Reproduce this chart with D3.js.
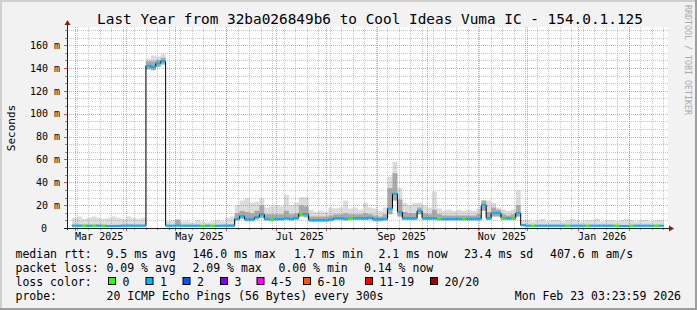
<!DOCTYPE html>
<html>
<head>
<meta charset="utf-8">
<script src="https://cdn.jsdelivr.net/npm/d3@7"></script>
<style>
  body { margin: 0; background: #f2f2f2; }
  svg { display: block; }
  text { font-family: "DejaVu Sans Mono", monospace; fill: #000; }
</style>
</head>
<body>
<svg id="chart" width="697" height="310"></svg>
<script>
// ---- data (one bin = 3 days, ms) ----
const binDays = 3;
const rangeStart = new Date(Date.UTC(2025, 1, 24, 3, 24));
const rangeEnd = new Date(Date.UTC(2026, 1, 24, 3, 24));

const median = [
  null, 2.1, 2.1, 2.1, 2.0, 2.1, 2.1, 2.0, 1.8, 1.8,
  1.9, 2.1, 2.1, 2.1, 2.1, 2.1, 142, 141, 144, 146,
  2.1, 2.1, 2.2, 2.1, 2.1, 2.1, 2.1, 2.0, 2.1, 2.1,
  2.0, 2.1, 2.1, 2.1, 8.0, 10.5, 7.6, 7.6, 9.5, 12.0,
  8.0, 7.5, 8.0, 8.0, 8.5, 8.0, 9.0, 12.5, 12.0, 7.0,
  7.0, 7.0, 7.0, 7.5, 8.5, 8.5, 8.2, 8.5, 8.5, 8.5,
  8.5, 9.0, 7.6, 7.6, 8.0, 17, 30, 14, 8.5, 8.5,
  8.5, 15, 8.5, 8.5, 8.5, 8.0, 8.0, 8.0, 8.0, 8.0,
  8.0, 8.0, 8.2, 8.0, 20, 8.5, 13, 13, 8.5, 8.5,
  8.5, 13, 2.5, 2.1, 2.1, 2.1, 2.1, 2.1, 2.1, 2.1,
  2.1, 2.1, 2.1, 2.1, 2.1, 2.1, 2.1, 2.1, 2.1, 2.1,
  2.1, 2.1, 1.8, 1.8, 2.1, 2.1, 2.1, 2.1, 2.1, 2.1,
  2.1, null
];

// top of the smoke (slowest ping)
const smokeHi = [
  null, 9, 10, 8, 9, 10, 9, 8, 9, 10,
  9, 8, 10, 9, 8, 9, 148, 151, 150, 152,
  6, 7, 8, 6, 6, 5, 7, 6, 5, 6,
  7, 6, 9, 10, 20, 24, 26, 22, 23, 26,
  18, 19, 20, 19, 29, 20, 22, 27, 27, 16,
  14, 15, 14, 18, 17, 18, 24, 17, 18, 16,
  22, 18, 17, 15, 18, 45, 58, 35, 22, 20,
  22, 22, 20, 18, 32, 17, 15, 16, 15, 16,
  15, 16, 15, 17, 24, 24, 22, 18, 16, 15,
  16, 33, 7, 7, 6, 7, 8, 6, 7, 7,
  6, 7, 8, 7, 6, 7, 7, 8, 6, 7,
  7, 6, 7, 8, 7, 6, 7, 7, 6, 7,
  7, null
];

// top of the dense part of the smoke
const smokeMid = [
  null, 2.8, 2.8, 2.8, 2.8, 2.8, 2.8, 2.8, 2.6, 2.6,
  2.6, 2.8, 2.8, 2.8, 2.8, 2.8, 146, 146, 147, 149,
  2.6, 2.6, 7, 2.6, 2.6, 2.6, 2.6, 2.6, 2.6, 2.6,
  2.6, 2.6, 2.8, 3, 13, 15, 14, 13, 15, 20,
  12, 12, 12, 12, 15, 12, 13, 20, 19, 10,
  10, 10, 10, 11, 12, 12, 13, 12, 12, 12,
  13, 12, 11, 10, 12, 35, 48, 25, 14, 13,
  13, 18, 13, 12, 16, 12, 11, 11, 11, 11,
  11, 11, 11, 12, 24, 14, 18, 16, 12, 11,
  12, 20, 3, 2.6, 2.6, 2.6, 2.6, 2.6, 2.6, 2.6,
  2.6, 2.6, 2.6, 2.6, 2.6, 2.6, 2.6, 2.6, 2.6, 2.6,
  2.6, 2.6, 2.6, 2.6, 2.6, 2.6, 2.6, 2.6, 2.6, 2.6,
  2.6, null
];

// bottom of the smoke (fastest ping)
const smokeLo = [
  null, 1.4, 1.4, 1.4, 1.4, 1.4, 1.4, 1.4, 1.4, 1.4,
  1.4, 1.4, 1.4, 1.4, 1.4, 1.4, 139, 138, 141, 143,
  1.4, 1.4, 1.4, 1.4, 1.4, 1.4, 1.4, 1.4, 1.4, 1.4,
  1.4, 1.4, 1.4, 1.4, 6.5, 8, 6, 6, 7.5, 9,
  6.5, 6, 6.5, 6.5, 7, 6.5, 7, 10, 9.5, 5.5,
  5.5, 5.5, 5.5, 6, 7, 7, 6.5, 7, 7, 7,
  7, 7.5, 6, 6, 6.5, 12, 24, 10, 7, 7,
  7, 12, 7, 7, 7, 6.5, 6.5, 6.5, 6.5, 6.5,
  6.5, 6.5, 6.5, 6.5, 15, 7, 10, 10, 7, 7,
  7, 10, 1.5, 1.4, 1.4, 1.4, 1.4, 1.4, 1.4, 1.4,
  1.4, 1.4, 1.4, 1.4, 1.4, 1.4, 1.4, 1.4, 1.4, 1.4,
  1.4, 1.4, 1.4, 1.4, 1.4, 1.4, 1.4, 1.4, 1.4, 1.4,
  1.4, null
];

// loss colour bucket per bin (0 = no loss, 1 = one ping of 20)
const lossIdx = [
  1, 1, 1, 0, 1, 0, 1, 0, 1, 1,
  1, 1, 1, 1, 1, 1, 1, 1, 1, 1,
  1, 1, 1, 1, 1, 1, 1, 0, 1, 0,
  1, 1, 1, 1, 1, 1, 1, 1, 1, 1,
  1, 0, 1, 1, 1, 1, 1, 0, 1, 1,
  1, 1, 1, 1, 1, 1, 1, 0, 1, 1,
  1, 1, 1, 1, 1, 1, 1, 1, 1, 1,
  1, 1, 1, 1, 1, 0, 1, 1, 1, 1,
  0, 1, 1, 1, 1, 1, 1, 1, 0, 1,
  0, 1, 1, 1, 0, 1, 1, 1, 1, 1,
  1, 0, 1, 1, 1, 0, 1, 1, 1, 1,
  1, 0, 1, 1, 0, 1, 1, 1, 1, 0,
  1, 1
];

const yTicks = [0, 20, 40, 60, 80, 100, 120, 140, 160];
const lossColors = ["#26ff00", "#00b8ff", "#0059ff", "#7e00ff", "#ff00ff", "#ff5500", "#ff0000", "#a10000"];
const lossLabels = ["0", "1", "2", "3", "4-5", "6-10", "11-19", "20/20"];
const rttStats = ["9.5 ms avg", "146.0 ms max", "1.7 ms min", "2.1 ms now", "23.4 ms sd", "407.6 m am/s"];
const lossStats = ["0.09 % avg", "2.09 % max", "0.00 % min", "0.14 % now"];
const titleText = "Last Year from 32ba026849b6 to Cool Ideas Vuma IC - 154.0.1.125";
const probeText = "20 ICMP Echo Pings (56 Bytes) every 300s";
const stampText = "Mon Feb 23 03:23:59 2026";

// ---- layout ----
const W = 697, H = 310;
const X0 = 67, X1 = 667, Y0 = 228, YT = 28;

const svg = d3.select("#chart");
const x = d3.scaleTime().domain([rangeStart, rangeEnd]).range([X0, X1]);
const y = d3.scaleLinear().domain([0, 175]).range([Y0, YT]);

// background + 3d frame
svg.append("rect").attr("width", W).attr("height", H).attr("fill", "#f2f2f2");
svg.append("path").attr("d", `M1,${H} V1 H${W}`).attr("stroke", "#cfcfcf").attr("stroke-width", 2).attr("fill", "none");
svg.append("path").attr("d", `M0,${H - 1} H${W - 1} V0`).attr("stroke", "#9e9e9e").attr("stroke-width", 2).attr("fill", "none");
svg.append("rect").attr("x", X0).attr("y", YT - 1).attr("width", X1 - X0 + 1).attr("height", Y0 - YT + 1).attr("fill", "#fff");

// bins -> step points
const bins = median.map((m, i) => ({
  t0: d3.utcDay.offset(rangeStart, i * binDays),
  t1: d3.utcDay.offset(rangeStart, (i + 1) * binDays),
  med: m, lo: smokeLo[i], mid: smokeMid[i], hi: smokeHi[i], loss: lossIdx[i]
}));
const steps = bins.flatMap(b => [Object.assign({ t: b.t0 }, b), Object.assign({ t: b.t1 }, b)]);

svg.append("clipPath").attr("id", "plot")
  .append("rect").attr("x", X0).attr("y", YT - 2).attr("width", X1 - X0).attr("height", Y0 - YT + 2);
const g = svg.append("g").attr("clip-path", "url(#plot)");

const ok = d => d.med != null;
g.append("path").datum(steps)
  .attr("fill", "#dcdcdc")
  .attr("d", d3.area().defined(ok).x(d => x(d.t)).y0(d => y(d.lo)).y1(d => y(d.hi)));
g.append("path").datum(steps)
  .attr("fill", "#a9a9a9")
  .attr("d", d3.area().defined(ok).x(d => x(d.t)).y0(d => y(d.lo)).y1(d => y(d.mid)));

// grid (drawn over the smoke like rrdtool does)
const grid = svg.append("g").attr("shape-rendering", "crispEdges").attr("stroke-dasharray", "1,1");
const weeks = d3.utcSunday.range(rangeStart, rangeEnd);
const months = d3.utcMonth.range(rangeStart, rangeEnd);
const minorY = d3.range(0, 175, 20 / 3).filter(v => Math.abs(v / 20 - Math.round(v / 20)) > 0.01);

grid.selectAll(".vmin").data(weeks).join("line")
  .attr("x1", d => Math.round(x(d)) + 0.5).attr("x2", d => Math.round(x(d)) + 0.5)
  .attr("y1", Y0).attr("y2", YT - 1)
  .attr("stroke", "rgba(143,143,143,0.5)");
grid.selectAll(".hmin").data(minorY).join("line")
  .attr("x1", X0).attr("x2", X1 + 1)
  .attr("y1", d => Math.round(y(d)) + 0.5).attr("y2", d => Math.round(y(d)) + 0.5)
  .attr("stroke", "rgba(143,143,143,0.5)");
grid.selectAll(".vmaj").data(months).join("line")
  .attr("x1", d => Math.round(x(d)) + 0.5).attr("x2", d => Math.round(x(d)) + 0.5)
  .attr("y1", Y0).attr("y2", YT - 1)
  .attr("stroke", "rgba(222,79,79,0.55)");
grid.selectAll(".hmaj").data(yTicks.slice(1)).join("line")
  .attr("x1", X0).attr("x2", X1 + 1)
  .attr("y1", d => Math.round(y(d)) + 0.5).attr("y2", d => Math.round(y(d)) + 0.5)
  .attr("stroke", "rgba(222,79,79,0.55)");

// median: thin black step line, loss colour on the flat parts
const lines = svg.append("g").attr("clip-path", "url(#plot)");
lines.append("path").datum(steps)
  .attr("fill", "none").attr("stroke", "#000").attr("stroke-width", 1)
  .attr("d", d3.line().defined(ok).x(d => x(d.t)).y(d => y(d.med)));
lines.selectAll(".seg").data(bins.filter(ok)).join("line")
  .attr("x1", d => x(d.t0)).attr("x2", d => x(d.t1))
  .attr("y1", d => y(d.med)).attr("y2", d => y(d.med))
  .attr("stroke", d => lossColors[d.loss]).attr("stroke-width", 2);

// axes
const ticks = svg.append("g").attr("shape-rendering", "crispEdges");
ticks.selectAll(".ty").data(minorY).join("line")
  .attr("x1", X0 - 2).attr("x2", X0).attr("y1", d => Math.round(y(d)) + 0.5).attr("y2", d => Math.round(y(d)) + 0.5)
  .attr("stroke", "#8f8f8f");
ticks.selectAll(".tY").data(yTicks).join("line")
  .attr("x1", X0 - 3).attr("x2", X0).attr("y1", d => Math.round(y(d)) + 0.5).attr("y2", d => Math.round(y(d)) + 0.5)
  .attr("stroke", "#de5050");
ticks.selectAll(".tx").data(weeks).join("line")
  .attr("x1", d => Math.round(x(d)) + 0.5).attr("x2", d => Math.round(x(d)) + 0.5).attr("y1", Y0).attr("y2", Y0 + 2)
  .attr("stroke", "#8f8f8f");
ticks.selectAll(".tX").data(months).join("line")
  .attr("x1", d => Math.round(x(d)) + 0.5).attr("x2", d => Math.round(x(d)) + 0.5).attr("y1", Y0).attr("y2", Y0 + 3)
  .attr("stroke", "#de5050");
ticks.append("line").attr("x1", X0 + 0.5).attr("x2", X0 + 0.5).attr("y1", Y0 + 2).attr("y2", YT - 5).attr("stroke", "#1f1f1f");
ticks.append("line").attr("x1", X0 - 3).attr("x2", X1 + 3).attr("y1", Y0 + 0.5).attr("y2", Y0 + 0.5).attr("stroke", "#1f1f1f");
svg.append("path").attr("d", `M${X0 - 2.5},${YT - 3} L${X0 + 3.5},${YT - 3} L${X0 + 0.5},${YT - 8} Z`).attr("fill", "#801f1f");
svg.append("path").attr("d", `M${X1 + 2},${Y0 - 2.5} L${X1 + 2},${Y0 + 3.5} L${X1 + 7},${Y0 + 0.5} Z`).attr("fill", "#801f1f");

const yAxis = svg.append("g").attr("transform", `translate(${X0},0)`)
  .call(d3.axisLeft(y).tickValues(yTicks).tickSize(0).tickPadding(7)
    .tickFormat(v => v === 0 ? "0" : v + " m"));
yAxis.select(".domain").remove();
yAxis.selectAll("text").attr("font-size", 10).attr("font-family", "DejaVu Sans Mono")
  .attr("dx", d => d === 0 ? -13 : 0);

const labelDates = months.filter(d => d.getUTCMonth() % 2 === 0).map(d => new Date(+d + 14.4 * 864e5));
const xAxis = svg.append("g").attr("transform", `translate(0,${Y0})`)
  .call(d3.axisBottom(x).tickValues(labelDates).tickSize(0).tickPadding(5).tickFormat(d3.utcFormat("%b %Y")));
xAxis.select(".domain").remove();
xAxis.selectAll("text").attr("font-size", 10).attr("font-family", "DejaVu Sans Mono");

// texts
svg.append("text").attr("x", 370).attr("y", 24).attr("text-anchor", "middle")
  .attr("font-size", 14.4).text(titleText);
svg.append("text").attr("transform", "translate(15,128) rotate(-90)").attr("text-anchor", "middle")
  .attr("font-size", 11).text("Seconds");
svg.append("text").attr("transform", "translate(685,5) rotate(90)")
  .attr("font-size", 8.3).style("fill", "#aaaaaa").text("RRDTOOL / TOBI OETIKER");

// legend
const lg = svg.append("g").attr("font-size", 11.5);
const rowY = [258, 272, 286, 300];
lg.append("text").attr("x", 15.5).attr("y", rowY[0]).text("median rtt:");
lg.append("text").attr("x", 15.5).attr("y", rowY[1]).text("packet loss:");
lg.append("text").attr("x", 15.5).attr("y", rowY[2]).text("loss color:");
lg.append("text").attr("x", 15.5).attr("y", rowY[3]).text("probe:");
const rttX = [106.5, 192.5, 294, 378.5, 464, 550];
lg.selectAll(".rtt").data(rttStats).join("text")
  .attr("x", (d, i) => rttX[i]).attr("y", rowY[0]).text(d => d);
const lossX = [106.5, 192.5, 278.5, 364];
lg.selectAll(".loss").data(lossStats).join("text")
  .attr("x", (d, i) => lossX[i]).attr("y", rowY[1]).text(d => d);
const boxX = [108, 145.5, 182.5, 220, 256.5, 303, 365, 430];
lg.selectAll(".box").data(lossColors).join("rect")
  .attr("x", (d, i) => boxX[i] + 0.5).attr("y", 277.5).attr("width", 7).attr("height", 7)
  .attr("fill", d => d).attr("stroke", "#000").attr("stroke-width", 1);
lg.selectAll(".blab").data(lossLabels).join("text")
  .attr("x", (d, i) => boxX[i] + 14.5).attr("y", rowY[2]).text(d => d);
lg.append("text").attr("x", 106.5).attr("y", rowY[3]).text(probeText);
lg.append("text").attr("x", 681).attr("y", rowY[3]).attr("text-anchor", "end").text(stampText);
</script>
</body>
</html>
